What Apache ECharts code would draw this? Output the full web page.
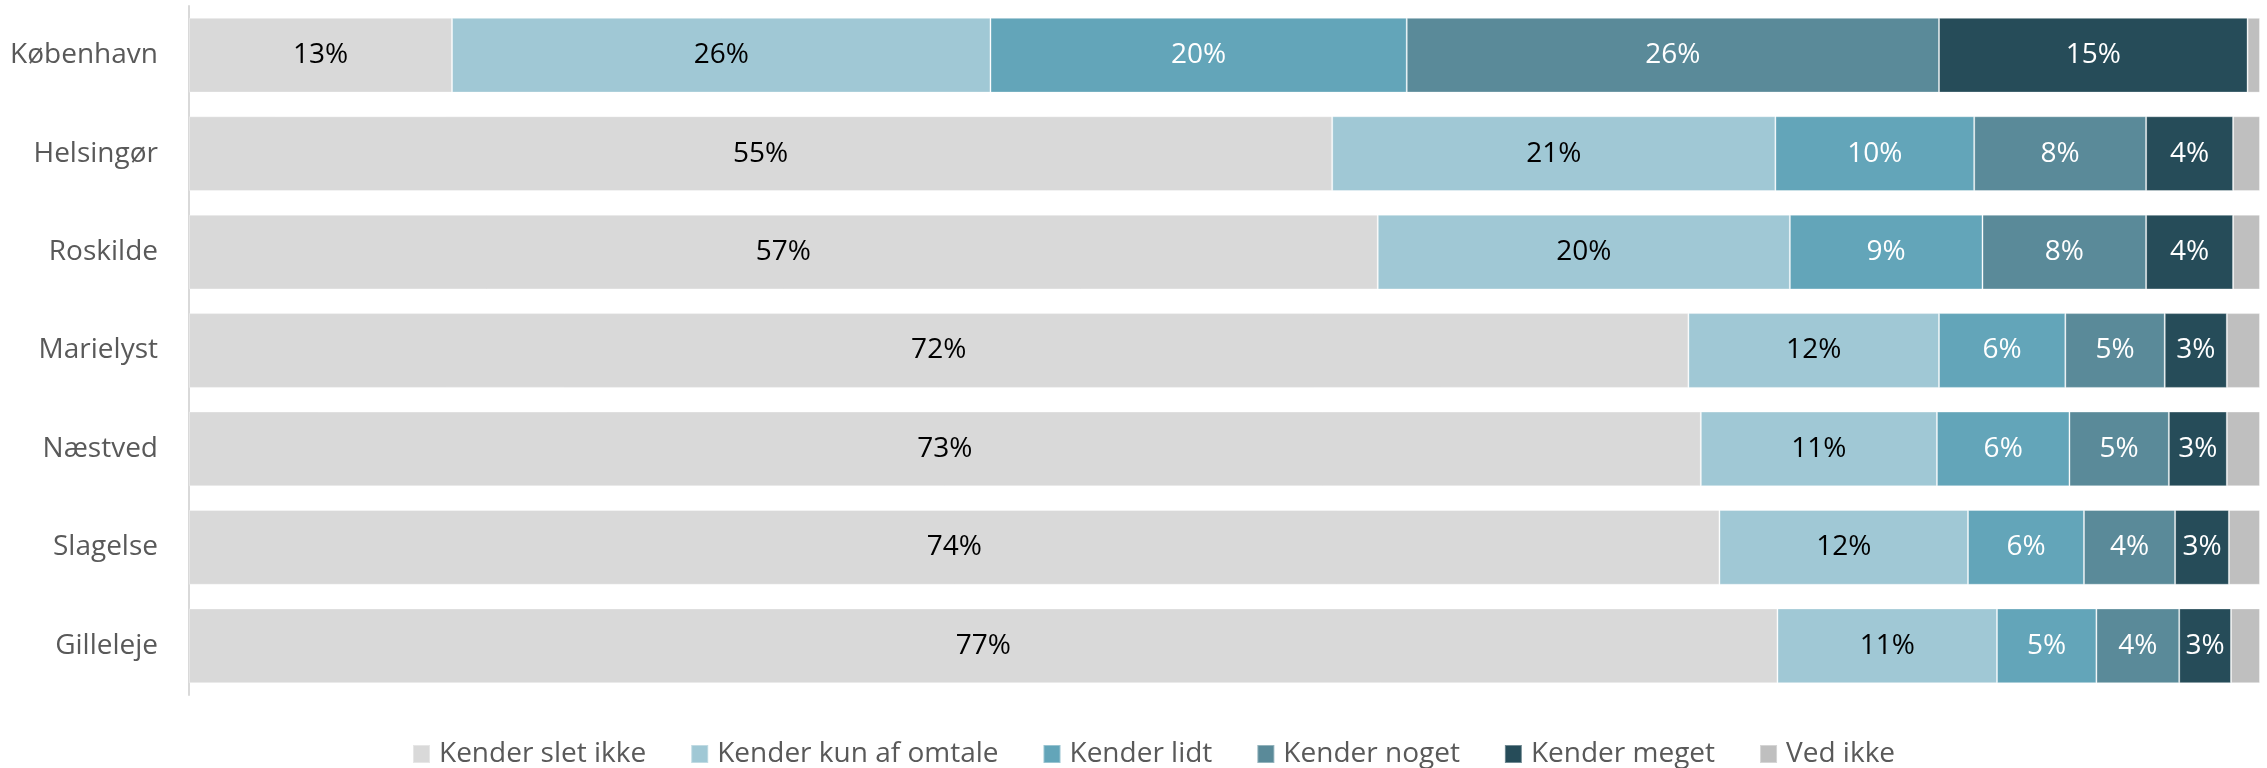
<!DOCTYPE html>
<html>
<head>
<meta charset="utf-8">
<script src="https://cdn.jsdelivr.net/npm/echarts@6.0.0/dist/echarts.min.js"></script>
<style>
  html, body { margin: 0; padding: 0; background: #fff; }
  #chart { width: 2267px; height: 768px; }
</style>
</head>
<body>
<div id="chart"></div>
<script>
const cities = ['København', 'Helsingør', 'Roskilde', 'Marielyst', 'Næstved', 'Slagelse', 'Gilleleje'];

// andele i procent, læst af figuren
const sletIkke   = [12.7, 55.2, 57.4, 72.4, 73.0, 73.9, 76.7];
const kunOmtale  = [26.0, 21.4, 19.9, 12.1, 11.4, 12.0, 10.6];
const lidt       = [20.1,  9.6,  9.3,  6.1,  6.4,  5.6,  4.8];
const noget      = [25.7,  8.3,  7.9,  4.8,  4.8,  4.4,  4.0];
const meget      = [14.9,  4.2,  4.2,  3.0,  2.8,  2.6,  2.5];
const vedIkke    = [ 0.6,  1.3,  1.3,  1.6,  1.6,  1.5,  1.4];

const seriesNames = ['Kender slet ikke', 'Kender kun af omtale', 'Kender lidt', 'Kender noget', 'Kender meget', 'Ved ikke'];
const seriesData = [sletIkke, kunOmtale, lidt, noget, meget, vedIkke];
const colors = ['#D9D9D9', '#A0C8D5', '#63A5B9', '#5A8A99', '#264C59', '#BFBFBF'];
const labelColors = ['#000', '#000', '#fff', '#fff', '#fff', null];

const font = '"Open Sans", sans-serif';

const chart = echarts.init(document.getElementById('chart'));

chart.setOption({
  animation: false,
  color: colors,
  grid: {
    left: 189,
    right: 7,
    top: 6,
    bottom: 73
  },
  legend: {
    data: seriesNames,
    left: 407,
    top: 735,
    icon: 'rect',
    itemWidth: 17,
    itemHeight: 18,
    itemGap: 44,
    textStyle: {
      color: '#595959',
      fontSize: 28,
      fontFamily: font,
      padding: [0, 0, 0, 4]
    }
  },
  xAxis: {
    type: 'value',
    min: 0,
    max: 100,
    show: false
  },
  yAxis: {
    type: 'category',
    data: cities,
    inverse: true,
    axisTick: { show: false },
    axisLine: {
      lineStyle: { color: '#D9D9D9', width: 2 }
    },
    axisLabel: {
      color: '#595959',
      fontSize: 28,
      fontFamily: font,
      margin: 31
    }
  },
  series: seriesNames.map((name, i) => ({
    name: name,
    type: 'bar',
    stack: 'total',
    barCategoryGap: '24%',
    data: seriesData[i],
    itemStyle: {
      color: colors[i],
      borderColor: 'rgba(255,255,255,0.35)',
      borderWidth: 1
    },
    label: {
      show: labelColors[i] !== null,
      position: 'inside',
      color: labelColors[i] || '#000',
      fontSize: 28,
      fontFamily: font,
      formatter: (p) => Math.round(p.value) + '%'
    }
  }))
});
</script>
</body>
</html>
